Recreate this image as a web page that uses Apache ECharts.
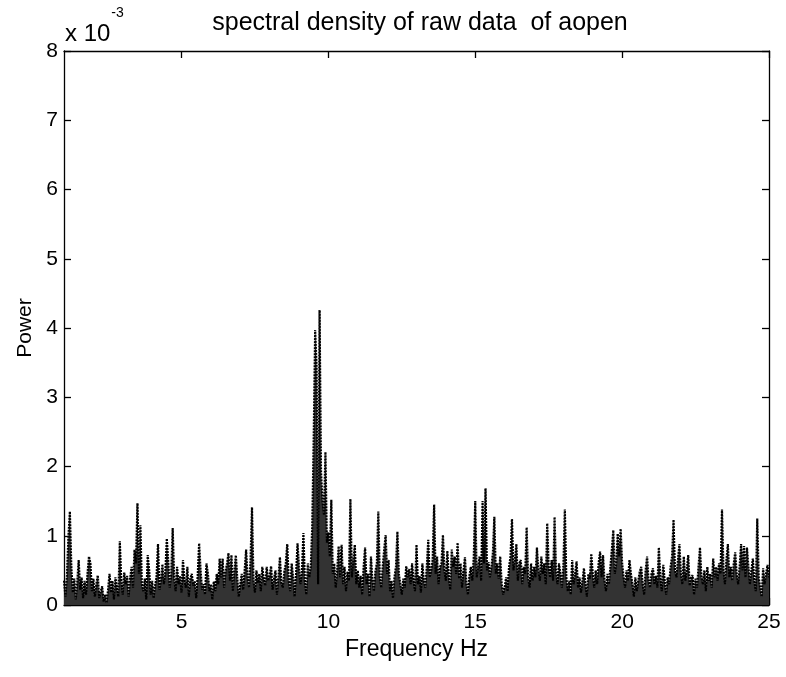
<!DOCTYPE html>
<html>
<head>
<meta charset="utf-8">
<script src="https://cdn.jsdelivr.net/npm/echarts@6/dist/echarts.min.js"></script>
<style>
html,body{margin:0;padding:0;background:#fff;}
#chart{width:786px;height:677px;}
</style>
</head>
<body>
<div id="chart"></div>
<script>
// Spectral density sampled every 0.05 Hz from 1 Hz to 25 Hz, values in units of 1e-3
var freqStart = 1;
var freqStep = 0.05;
var powerE3 = [
  // 1 Hz
  0.35,0.12,0.42,0.99,1.35,0.55,0.18,0.38,0.08,0.32,0.65,0.22,0.40,0.10,0.35,0.15,0.45,0.70,0.60,0.20,
  // 2 Hz
  0.38,0.12,0.30,0.43,0.10,0.20,0.27,0.05,0.15,0.03,0.22,0.45,0.18,0.35,0.08,0.40,0.25,0.12,0.92,0.35,
  // 3 Hz
  0.15,0.47,0.30,0.42,0.12,0.38,0.55,0.25,0.80,0.60,1.47,0.45,1.15,0.30,0.20,0.38,0.08,0.72,0.50,0.15,
  // 4 Hz
  0.35,0.10,0.28,0.40,0.88,0.22,0.35,0.59,0.30,0.48,0.96,0.62,0.25,0.45,1.11,0.40,0.20,0.55,0.30,0.42,
  // 5 Hz
  0.18,0.65,0.35,0.25,0.55,0.12,0.38,0.45,0.28,0.35,0.10,0.42,0.89,0.50,0.22,0.30,0.15,0.60,0.45,0.20,
  // 6 Hz
  0.30,0.08,0.34,0.20,0.45,0.30,0.67,0.40,0.67,0.25,0.48,0.60,0.75,0.35,0.72,0.20,0.50,0.72,0.38,0.12,
  // 7 Hz
  0.30,0.45,0.22,0.50,0.80,0.40,0.25,0.65,1.41,0.35,0.18,0.50,0.32,0.45,0.20,0.55,0.38,0.28,0.55,0.35,
  // 8 Hz
  0.42,0.56,0.22,0.38,0.50,0.15,0.40,0.69,0.32,0.25,0.48,0.60,0.88,0.35,0.20,0.60,0.40,0.12,0.45,0.89,
  // 9 Hz
  0.55,0.30,0.48,1.04,0.35,0.15,0.60,0.40,0.55,1.13,2.40,3.97,3.44,0.30,4.26,1.92,1.50,1.30,2.21,0.90,
  // 10 Hz
  1.05,0.70,1.52,0.45,0.60,0.25,0.50,0.85,0.40,0.87,0.30,0.55,0.20,0.48,0.35,1.53,0.40,0.65,0.87,0.30,
  // 11 Hz
  0.50,0.25,0.42,0.15,0.55,0.83,0.30,0.45,0.12,0.70,0.35,0.20,0.48,0.60,1.35,0.40,0.25,0.55,0.80,1.01,
  // 12 Hz
  0.45,0.65,0.20,0.35,0.10,0.40,0.55,1.06,0.45,0.30,0.15,0.38,0.25,0.56,0.40,0.52,0.30,0.60,0.35,0.20,
  // 13 Hz
  0.87,0.30,0.42,0.18,0.60,0.35,0.25,0.55,0.94,0.40,0.50,0.65,1.45,0.45,0.70,0.30,0.55,0.60,1.01,0.50,
  // 14 Hz
  0.35,0.78,0.40,0.22,0.80,0.55,0.70,0.45,0.90,0.38,0.60,0.25,0.50,0.69,0.30,0.15,0.42,0.55,0.35,0.70,
  // 15 Hz
  1.50,0.40,0.55,0.70,0.35,1.50,0.60,1.685,0.50,0.62,0.40,0.55,0.75,1.275,0.45,0.60,0.38,0.70,0.30,0.15,
  // 16 Hz
  0.25,0.40,0.20,0.55,0.70,1.24,0.50,0.65,0.88,0.35,0.60,0.65,0.30,0.55,0.45,1.12,0.40,0.25,0.60,0.35,
  // 17 Hz
  0.55,0.40,0.83,0.50,0.35,0.70,0.45,0.60,0.30,1.18,0.55,0.40,0.65,0.35,1.27,0.50,0.30,0.60,0.45,0.25,
  // 18 Hz
  0.55,1.38,0.40,0.20,0.35,0.15,0.65,0.30,0.45,0.63,0.25,0.40,0.18,0.35,0.53,0.30,0.12,0.45,0.38,0.74,
  // 19 Hz
  0.45,0.25,0.50,0.30,0.60,0.77,0.40,0.72,0.35,0.20,0.45,0.30,0.55,0.80,1.08,0.45,0.60,1.03,0.70,1.10,
  // 20 Hz
  0.60,0.40,0.25,0.50,0.35,0.65,0.45,0.30,0.12,0.40,0.20,0.35,0.48,0.55,0.30,0.15,0.50,0.70,0.35,0.25,
  // 21 Hz
  0.45,0.53,0.30,0.42,0.25,0.83,0.40,0.20,0.58,0.35,0.15,0.40,0.30,0.55,0.70,1.23,0.50,0.40,0.65,0.88,
  // 22 Hz
  0.45,0.30,0.70,0.35,0.50,0.72,0.28,0.40,0.43,0.15,0.38,0.25,0.55,0.83,0.40,0.30,0.50,0.20,0.55,0.35,
  // 23 Hz
  0.45,0.25,0.67,0.40,0.55,0.35,0.60,0.45,1.38,0.50,0.30,0.65,0.88,0.40,0.55,0.35,0.60,0.76,0.45,0.30,
  // 24 Hz
  0.55,0.88,0.50,0.85,0.40,0.83,0.55,0.30,0.50,0.67,0.35,0.20,1.25,0.40,0.25,0.12,0.53,0.30,0.45,0.58,
  // 25 Hz
  0.40
];
var xTickValues = [5, 10, 15, 20, 25];
var titleText = 'spectral density of raw data  of aopen';
var xLabel = 'Frequency Hz';
var yLabel = 'Power';

var seriesData = powerE3.map(function (v, i) {
  return [+(freqStart + i * freqStep).toFixed(2), v];
});

var FONT = 'Liberation Sans, Arial, Helvetica, sans-serif';
var chart = echarts.init(document.getElementById('chart'), null, {renderer: 'canvas'});

var axisLine = {show: true, onZero: false, lineStyle: {color: '#000', width: 1.3}};
var tickStyle = {show: true, inside: true, length: 7, lineStyle: {color: '#000', width: 1.3}};

chart.setOption({
  backgroundColor: '#fff',
  animation: false,
  title: {
    text: titleText,
    left: 415,
    top: 6,
    textAlign: 'center',
    textStyle: {fontFamily: FONT, fontWeight: 'normal', fontSize: 25, color: '#000'}
  },
  graphic: [{
    type: 'text',
    left: 65,
    top: 6,
    style: {
      text: '{a|x 10}{b|-3}',
      rich: {
        a: {fontFamily: FONT, fontSize: 24, fill: '#000', verticalAlign: 'bottom', lineHeight: 40},
        b: {fontFamily: FONT, fontSize: 14, fill: '#000', verticalAlign: 'top', lineHeight: 40, padding: [0, 0, 20, 1]}
      }
    }
  }],
  grid: {left: 64, right: 17, top: 51, bottom: 72, containLabel: false},
  xAxis: [{
    type: 'value',
    min: 1,
    max: 25,
    position: 'bottom',
    name: xLabel,
    nameLocation: 'middle',
    nameGap: 30,
    nameTextStyle: {fontFamily: FONT, fontSize: 23, color: '#000'},
    axisLine: axisLine,
    axisTick: Object.assign({customValues: xTickValues}, tickStyle),
    axisLabel: {customValues: xTickValues, fontFamily: FONT, fontSize: 21, color: '#000', margin: 7},
    splitLine: {show: false}
  }, {
    type: 'value',
    min: 1,
    max: 25,
    position: 'top',
    axisLine: axisLine,
    axisTick: Object.assign({customValues: xTickValues}, tickStyle),
    axisLabel: {show: false},
    splitLine: {show: false}
  }],
  yAxis: [{
    type: 'value',
    min: 0,
    max: 8,
    interval: 1,
    position: 'left',
    name: yLabel,
    nameLocation: 'middle',
    nameRotate: 90,
    nameGap: 27,
    nameTextStyle: {fontFamily: FONT, fontSize: 21, color: '#000'},
    axisLine: axisLine,
    axisTick: tickStyle,
    axisLabel: {fontFamily: FONT, fontSize: 21, color: '#000', margin: 6},
    splitLine: {show: false}
  }, {
    type: 'value',
    min: 0,
    max: 8,
    interval: 1,
    position: 'right',
    axisLine: axisLine,
    axisTick: tickStyle,
    axisLabel: {show: false},
    splitLine: {show: false}
  }],
  series: [{
    type: 'line',
    xAxisIndex: 0,
    yAxisIndex: 0,
    data: seriesData,
    showSymbol: false,
    symbol: 'none',
    clip: true,
    lineStyle: {color: '#000', width: 2.2, type: [2, 1]},
    areaStyle: {color: '#333333', opacity: 1, origin: 'start'}
  }]
});
</script>
</body>
</html>
